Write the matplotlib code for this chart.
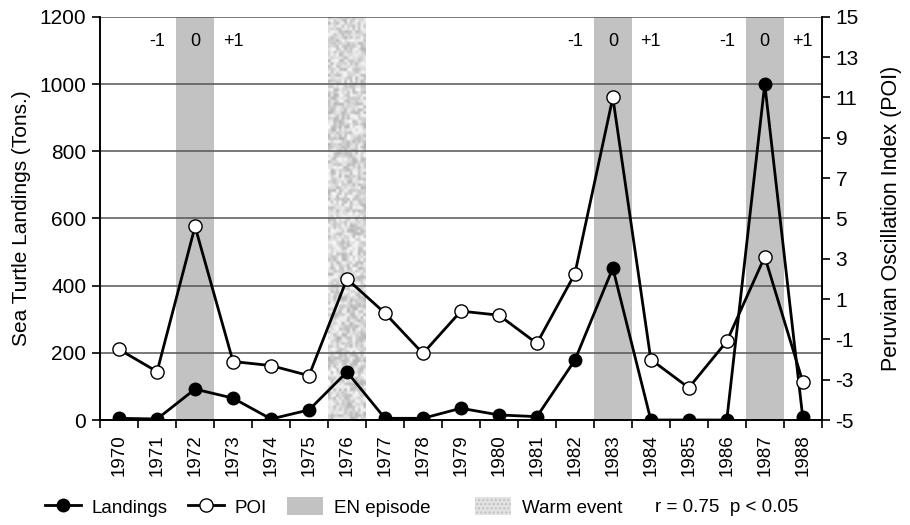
import matplotlib
matplotlib.use("Agg")
import matplotlib.pyplot as plt
from matplotlib.lines import Line2D
from matplotlib.patches import Patch
import numpy as np

plt.rcParams['font.family'] = ['Liberation Sans', 'DejaVu Sans']
plt.rcParams['axes.unicode_minus'] = False

# data
years = ['1970', '1971', '1972', '1973', '1974', '1975', '1976', '1977', '1978', '1979',
         '1980', '1981', '1982', '1983', '1984', '1985', '1986', '1987', '1988']
landings = [5, 3, 92, 65, 3, 30, 143, 5, 5, 35, 15, 10, 178, 452, 0, 0, 0, 1000, 8]
poi = [-1.5, -2.6, 4.6, -2.1, -2.3, -2.8, 2.0, 0.3, -1.7, 0.4, 0.2, -1.2, 2.25, 11.0,
       -2.0, -3.4, -1.1, 3.1, -3.1]
en_years = ['1972', '1983', '1987']
warm_years = ['1976']

x = np.arange(len(years))

fig = plt.figure(figsize=(9.1, 5.25), dpi=100)
ax = fig.add_axes([0.110, 0.200, 0.793, 0.768])
ax2 = ax.twinx()

# shaded episodes
for yr in en_years:
    i = years.index(yr)
    ax.axvspan(i - 0.5, i + 0.5, color='#c2c2c2', lw=0, zorder=0)
    for dx, lab in [(-1, '-1'), (0, '0'), (1, '+1')]:
        ax.text(i + dx, 1125, lab, ha='center', va='center', fontsize=13, zorder=5)

# speckled texture for the warm event (just decoration)
rng = np.random.default_rng(3)
tex = rng.uniform(0.70, 0.99, size=(140, 14))
for yr in warm_years:
    i = years.index(yr)
    ax.imshow(tex, cmap='gray', vmin=0, vmax=1, extent=(i - 0.5, i + 0.5, 0, 1200),
              aspect='auto', interpolation='bilinear', zorder=0)

ax.set_xlim(-0.5, len(years) - 0.5)
ax.set_ylim(0, 1200)
ax.set_yticks(range(0, 1201, 200))
ax.yaxis.grid(True, color='#555555', lw=1.1)
ax.set_axisbelow(True)

ax.plot(x, landings, color='black', lw=2, marker='o', ms=9, mfc='black', mec='black', zorder=4)
ax2.plot(x, poi, color='black', lw=2, marker='o', ms=9.5, mfc='white', mec='black', zorder=4)
ax2.set_ylim(-5, 15)
ax2.set_yticks(range(-5, 16, 2))

ax.set_xticks(x)
ax.set_xticklabels(years, rotation=90, fontsize=13.5)
ax.set_xticks(np.arange(-0.5, len(years), 1), minor=True)
ax.tick_params(axis='x', which='major', length=0, pad=10)
ax.tick_params(axis='x', which='minor', length=6, width=1.2)
ax.tick_params(axis='y', labelsize=15, length=6, width=1.2, pad=4)
ax2.tick_params(axis='y', labelsize=15, length=6, width=1.2, pad=4)

for a in (ax, ax2):
    a.spines['top'].set_visible(False)
    for s in ('left', 'right', 'bottom'):
        a.spines[s].set_linewidth(1.2)

ax.set_ylabel('Sea Turtle Landings (Tons.)', fontsize=15, labelpad=6)
ax2.set_ylabel('Peruvian Oscillation Index (POI)', fontsize=15.5, labelpad=16)

# legend items placed one by one, like the original
items = [
    (Line2D([], [], color='black', lw=2, marker='o', ms=9, mfc='black', mec='black'), 'Landings', 45),
    (Line2D([], [], color='black', lw=2, marker='o', ms=9.5, mfc='white', mec='black'), 'POI', 188),
    (Patch(facecolor='#c2c2c2', edgecolor='none'), 'EN episode', 287),
    (Patch(facecolor='#e2e2e2', edgecolor='#c0c0c0', hatch='....', lw=0), 'Warm event', 475),
]
for h, lab, px in items:
    leg = fig.legend([h], [lab], loc='center left', bbox_to_anchor=(px / 910, 18 / 525),
                     frameon=False, fontsize=13.5, handlelength=1.9, handleheight=1.1,
                     handletextpad=0.6, borderpad=0, borderaxespad=0)
fig.text(655 / 910, 18 / 525, 'r = 0.75  p < 0.05', fontsize=13.5, va='center', ha='left')

fig.savefig('out.png', dpi=100)
